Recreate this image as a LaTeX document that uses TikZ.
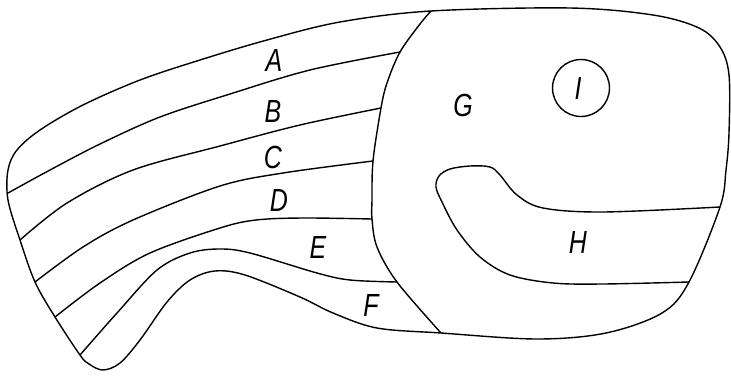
\documentclass[tikz,border=0pt]{standalone}
\usepackage{fontspec}
\usepackage{tikz}
\newfontfamily\lblfont{Liberation Sans}[FakeStretch=0.78]

\begin{document}
\begin{tikzpicture}[x=1pt, y=-1pt, line join=round,
    region/.style={draw=black, line width=1.4pt},
    lbl/.style={font=\lblfont\itshape\fontsize{32}{34}\selectfont, inner sep=0pt}]
    \useasboundingbox (0,0) rectangle (731,375);

    % outer outline
    \draw [region] plot [smooth cycle, tension=0.55] coordinates {
        (431,11) (570,8) (653,15) (699,28) (720,47) (729,75) (729,133) (726,170) (720,207)
        (689,282) (662,313) (606,333) (537,339) (441,333) (377,328) (333,313) (300,297)
        (245,275) (215,271) (190,280) (167,302) (140,340) (120,363) (103,370) (89,364)
        (80,355) (55,317) (35,282) (20,240) (8,200) (8,170) (17,150) (40,130) (83,105)
        (140,80) (200,60) (267,40) (340,22)};

    % divider of G
    \draw [region] plot [smooth, tension=0.55] coordinates {
        (431,11) (420,24) (400,52) (387,83) (381,108) (373,161) (372,200) (372,219)
        (377,247) (397,282) (441,333)};

    % stripes
    \draw [region] plot [smooth, tension=0.55] coordinates {
        (8,193) (50,170) (100,144) (160,117) (230,94) (310,70) (400,52)};
    \draw [region] plot [smooth, tension=0.55] coordinates {
        (20,240) (67,203) (133,170) (220,146) (300,125) (381,108)};
    \draw [region] plot [smooth, tension=0.55] coordinates {
        (35,282) (83,247) (133,220) (220,186) (283,173) (373,161)};
    \draw [region] plot [smooth, tension=0.55] coordinates {
        (55,317) (100,283) (150,253) (220,228) (256,220) (303,218) (372,219)};
    \draw [region] plot [smooth, tension=0.55] coordinates {
        (80,355) (117,313) (157,270) (190,253) (220,249) (250,253) (317,273) (350,280) (397,282)};

    % region H
    \draw [region] plot [smooth, tension=0.55] coordinates {
        (720,207) (603,212) (543,208) (517,195) (500,175) (490,167) (470,166) (450,169)
        (439,176) (436,187) (442,202) (457,230) (480,257) (510,275) (553,283) (603,284) (689,282)};

    % region I
    \draw [region] (581,88) circle [radius=28.5];

    % labels
    \node [lbl] (labA) at (274,60) {A};
    \node [lbl] (labB) at (273,111) {B};
    \node [lbl] (labC) at (273,157) {C};
    \node [lbl] (labD) at (279,200) {D};
    \node [lbl] (labE) at (318,247) {E};
    \node [lbl] (labF) at (371,305) {F};
    \node [lbl] (labG) at (463,105) {G};
    \node [lbl] (labH) at (578,242) {H};
    \node [lbl] (labI) at (578,88) {I};
\end{tikzpicture}
\end{document}
